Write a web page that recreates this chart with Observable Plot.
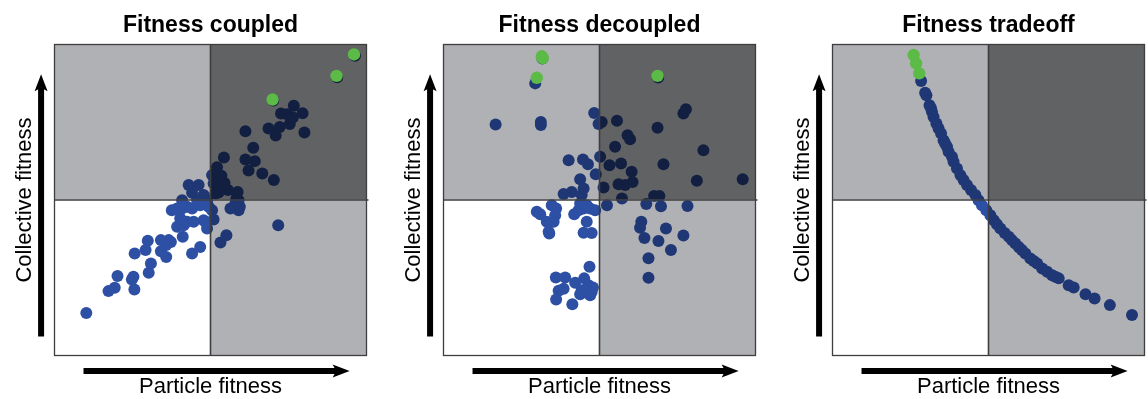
<!DOCTYPE html>
<html><head><meta charset="utf-8">
<script src="https://cdn.jsdelivr.net/npm/d3@7"></script>
<script src="https://cdn.jsdelivr.net/npm/@observablehq/plot@0.6"></script>
<style>body{margin:0;background:#fff;} #chart svg{display:block}</style>
</head><body><div id="chart"></div>
<script>
const panels = ["coupled", "decoupled", "tradeoff"];
const titles = ["Fitness coupled", "Fitness decoupled", "Fitness tradeoff"];
const xLabel = "Particle fitness";
const yLabel = "Collective fitness";

// [particle fitness, collective fitness] on a 0–100 scale, midpoint 50
const coupledBlue = [[10.2,13.7],[17.3,20.7],[19.3,21.8],[25.6,21.2],[20.2,25.6],[25.3,25.3],[24.8,24.4],[30.2,26.6],[30.9,29.6],[25.7,32.8],
 [29.2,33.9],[29.9,36.9],[34.1,37.1],[36.6,37.1],[37.3,36.5],[35.8,35.5],[34.1,33.5],[35.8,31.7],[41.1,38.2],[44.1,32.8],
 [46.7,34.9],[39.3,41.4],[42.5,43.0],[41.4,41.9],[40.3,44.1],[44.6,43.0],[37.6,46.7],[39.3,47.3],[42.5,47.8],[40.9,49.9],
 [40.9,47.3],[44.1,47.3],[46.7,48.3],[49.4,47.8],[50.5,46.7],[47.8,43.5],[48.9,40.8],[51.0,43.7],[48.3,43.0],[43.0,54.8],
 [46.2,54.8],[44.1,52.3],[47.8,51.6],[47.8,48.9],[50.5,58.0],[51.0,55.3],[56.4,47.3],[59.0,46.7],[58.0,48.9],[59.4,47.8],
 [55.1,38.7],[53.2,36.3],[71.7,41.9],[48.9,49.9],[45.7,49.9],[76.7,80.3],[72.6,77.8],[74.5,77.6],[76.4,76.5],[79.5,77.9],
 [75.4,74.4],[72.2,73.5],[68.6,73.0],[70.9,70.7],[80.1,71.7],[61.2,72.1],[63.7,66.8],[54.3,63.7],[61.2,63.0],[64.2,62.5],
 [62.2,59.5],[66.6,58.5],[70.3,56.4],[52.1,60.5],[53.5,57.8],[54.5,55.5],[51.9,55.3],[55.6,53.2],[58.7,52.6],[52.6,52.4],
 [58.3,50.5],[51.0,58.0],[51.6,52.1],[59.0,49.9],[96.3,96.4],[90.6,89.5],[70.1,82.0]];
const coupledGreen = [[96.0,96.8],[90.4,89.9],[69.9,82.3]];

const decoupledBlue = [[16.7,74.3],[31.2,75.1],[31.2,74.1],[29.4,87.5],[48.3,78.0],[49.7,74.4],[40.1,62.8],[44.7,63.0],[46.3,61.5],[48.8,58.3],
 [43.8,56.7],[44.9,53.7],[44.3,51.6],[41.1,52.6],[38.5,51.9],[50.2,63.9],[29.9,46.2],[31.0,45.4],[34.7,48.3],[36.1,47.3],
 [35.8,45.1],[35.3,43.0],[33.1,43.0],[33.7,39.8],[33.9,39.2],[41.9,45.4],[45.9,43.0],[44.9,39.5],[47.5,39.4],[44.9,47.3],
 [47.0,47.3],[48.6,46.7],[45.9,48.3],[43.8,48.9],[43.3,46.7],[52.4,48.3],[65.0,48.7],[69.7,48.0],[78.2,48.1],[63.4,43.0],
 [63.0,41.1],[71.3,40.8],[64.4,37.8],[68.9,36.8],[76.9,38.6],[72.9,33.9],[65.7,31.3],[65.7,25.0],[46.8,28.5],[36.0,25.1],
 [39.0,25.1],[42.2,23.4],[45.1,24.8],[46.5,22.6],[47.9,21.9],[47.0,19.4],[44.3,21.0],[43.8,19.7],[45.4,20.8],[47.5,20.4],
 [38.5,21.5],[36.9,20.8],[36.1,18.0],[41.3,16.5],[50.7,75.1],[55.6,75.5],[77.7,79.2],[76.9,77.8],[68.6,73.2],[59.0,70.8],
 [59.8,69.5],[55.0,67.1],[83.3,66.0],[53.2,61.2],[56.9,61.7],[70.5,61.5],[60.3,59.1],[60.6,55.8],[58.2,54.8],[56.1,55.1],
 [51.3,54.0],[81.2,56.2],[95.9,56.7],[57.2,50.5],[67.5,51.3],[69.2,51.3],[68.8,89.4],[31.7,95.5]];
const decoupledGreen = [[31.5,96.2],[31.8,95.6],[29.9,89.3],[68.6,89.9]];

const tradeoffBlue = [[28.4,88.3],[29.7,84.5],[30.1,83.7],[31.1,80.5],[31.6,79.4],[31.9,78.3],[32.4,76.7],[33.3,74.6],[34.0,73.0],[34.8,71.4],
 [35.6,69.2],[36.1,68.2],[36.7,67.1],[37.2,65.5],[38.3,63.9],[38.8,62.3],[39.9,60.1],[41.0,58.0],[42.0,56.4],[43.1,54.8],
 [44.4,53.2],[45.8,51.6],[46.8,49.9],[47.9,48.3],[49.3,46.7],[50.6,45.1],[51.7,43.5],[52.7,42.2],[53.8,40.8],[55.2,39.4],
 [56.5,38.2],[57.5,37.1],[58.6,36.0],[59.7,34.9],[60.7,33.9],[61.8,32.8],[63.4,31.2],[64.5,30.4],[65.6,29.6],[67.2,28.0],
 [68.8,26.9],[70.4,25.8],[71.4,25.3],[72.5,24.8],[75.7,22.6],[77.3,21.9],[81.1,19.7],[84.0,18.3],[88.9,16.2],[96.0,13.0]];
const tradeoffGreen = [[26.0,96.6],[26.8,93.9],[27.8,90.7]];

const toRows = (panel, pts) => pts.map(([x, y]) => ({panel, x, y}));
const blueRows = [...toRows("coupled", coupledBlue), ...toRows("decoupled", decoupledBlue), ...toRows("tradeoff", tradeoffBlue)];
const greenRows = [...toRows("coupled", coupledGreen), ...toRows("decoupled", decoupledGreen), ...toRows("tradeoff", tradeoffGreen)];

const lightQuads = [{x1: 0, x2: 50, y1: 50, y2: 100}, {x1: 50, x2: 100, y1: 0, y2: 50}];
const darkQuads = [{x1: 50, x2: 100, y1: 50, y2: 100}];

const blue = "#2d50a5", green = "#5cba47", lightGrey = "#b0b1b5", darkGrey = "#616264", lineColor = "#3e3e3e";

const headRight = {draw(ctx) { ctx.moveTo(0, 0); ctx.lineTo(-17, -6.5); ctx.lineTo(-13.5, 0); ctx.lineTo(-17, 6.5); ctx.closePath(); }};
const headUp = {draw(ctx) { ctx.moveTo(0, 0); ctx.lineTo(-6.5, 17); ctx.lineTo(0, 13.5); ctx.lineTo(6.5, 17); ctx.closePath(); }};

const plot = Plot.plot({
  width: 1148, height: 399,
  marginLeft: 54, marginRight: 4, marginTop: 44, marginBottom: 44,
  x: {domain: [0, 100], axis: null},
  y: {domain: [0, 100], axis: null},
  fx: {domain: panels, paddingInner: 0.198, paddingOuter: 0, axis: null},
  style: {fontFamily: "'Liberation Sans', Arial, Helvetica, sans-serif", background: "white", overflow: "visible"},
  marks: [
    Plot.dot(blueRows, {fx: "panel", x: "x", y: "y", r: 6, fill: blue}),
    Plot.rect(lightQuads, {x1: "x1", x2: "x2", y1: "y1", y2: "y2", fill: lightGrey, mixBlendMode: "multiply"}),
    Plot.rect(darkQuads, {x1: "x1", x2: "x2", y1: "y1", y2: "y2", fill: darkGrey, mixBlendMode: "multiply"}),
    Plot.dot(greenRows, {fx: "panel", x: "x", y: "y", r: 6.2, fill: green}),
    Plot.ruleX([50], {y1: 0, y2: 100, stroke: lineColor, strokeWidth: 1.6}),
    Plot.ruleY([50], {x1: 0, x2: 100.8, stroke: lineColor, strokeWidth: 1.6}),
    Plot.frame({stroke: lineColor, strokeWidth: 1.3}),
    // axis arrows
    Plot.link([0], {x1: 9.3, x2: 90.6, y1: -5, y2: -5, stroke: "black", strokeWidth: 6}),
    Plot.dot([0], {x: 94.6, y: -5, symbol: headRight, fill: "black", stroke: "none"}),
    Plot.link([0], {x1: -4.3, x2: -4.3, y1: 6.1, y2: 86.1, stroke: "black", strokeWidth: 6}),
    Plot.dot([0], {x: -4.3, y: 90.4, symbol: headUp, fill: "black", stroke: "none"}),
    // labels
    Plot.text(panels, {fx: d => d, text: (d, i) => titles[i], frameAnchor: "top", lineAnchor: "bottom", dy: -13, fontSize: 23, fontWeight: "bold", fill: "black"}),
    Plot.text([xLabel], {text: d => d, frameAnchor: "bottom", lineAnchor: "bottom", dy: 37, fontSize: 22, fill: "black"}),
    Plot.text([yLabel], {text: d => d, frameAnchor: "left", textAnchor: "middle", rotate: -90, lineAnchor: "bottom", dx: -24, fontSize: 22, fill: "black"})
  ]
});
d3.select(plot).selectAll('g[aria-label="rect"]').style("mix-blend-mode", "multiply");
document.getElementById("chart").append(plot);
</script>
</body></html>
